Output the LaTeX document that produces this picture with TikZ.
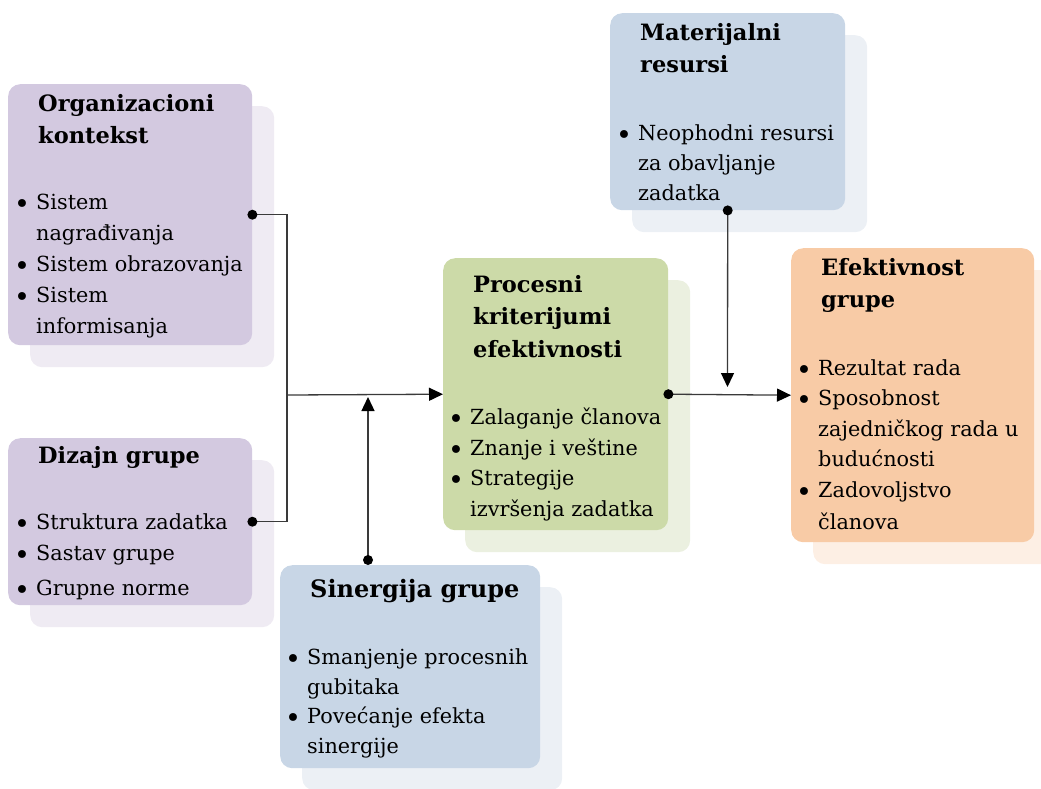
\documentclass[tikz,border=0pt]{standalone}
\usepackage{fontspec}
\setmainfont{DejaVu Serif}
\usetikzlibrary{arrows.meta,calc}
\definecolor{lavM}{HTML}{D3C9E0}
\definecolor{lavS}{HTML}{EFEBF3}
\definecolor{grnM}{HTML}{CCDAA8}
\definecolor{grnS}{HTML}{EBF0E0}
\definecolor{bluM}{HTML}{C8D6E6}
\definecolor{bluS}{HTML}{ECF0F5}
\definecolor{orgM}{HTML}{F8CBA6}
\definecolor{orgS}{HTML}{FDEFE4}
\definecolor{lineC}{HTML}{3A3A3A}
\newcommand\bl{\makebox[21pt][l]{\hspace*{-1pt}\raisebox{-4.2pt}{\fontsize{27}{27}\selectfont•}}}
\newcommand\nb{\hspace*{21pt}}
\begin{document}
\begin{tikzpicture}[x=1pt,y=-1pt,
  panel/.style={rounded corners=12pt, inner sep=0pt, anchor=north west, draw=none},
  head/.style={anchor=base west, inner sep=0pt, align=left, font=\fontsize{22.5}{32}\selectfont\bfseries},
  items/.style={anchor=base west, inner sep=0pt, align=left, font=\fontsize{20.8}{31}\selectfont},
  conn/.style={draw=lineC, line width=1.3pt},
  tipT/.style={-{Triangle[length=14pt,width=13pt,color=black]}},
  dotC/.style={fill=black}
]
\useasboundingbox (0,0) rectangle (1041,788);

% shadows
\node[panel, fill=lavS, minimum width=244pt, minimum height=261pt] (orgSh) at (30,106) {};
\node[panel, fill=lavS, minimum width=244pt, minimum height=167pt] (dizSh) at (30,460) {};
\node[panel, fill=bluS, minimum width=260pt, minimum height=203pt] (sinSh) at (302,587) {};
\node[panel, fill=grnS, minimum width=225pt, minimum height=272pt] (procSh) at (465,280) {};
\node[panel, fill=bluS, minimum width=235pt, minimum height=197pt] (matSh) at (632,35) {};
\node[panel, fill=orgS, minimum width=243pt, minimum height=294pt] (effSh) at (813,270) {};

% main panels
\node[panel, fill=lavM, minimum width=244pt, minimum height=261pt] (org) at (8,84) {};
\node[panel, fill=lavM, minimum width=244pt, minimum height=167pt] (diz) at (8,438) {};
\node[panel, fill=bluM, minimum width=260pt, minimum height=203pt] (sin) at (280,565) {};
\node[panel, fill=grnM, minimum width=225pt, minimum height=272pt] (proc) at (443,258) {};
\node[panel, fill=bluM, minimum width=235pt, minimum height=197pt] (mat) at (610,13) {};
\node[panel, fill=orgM, minimum width=243pt, minimum height=294pt] (eff) at (791,248) {};

% headings (anchor = baseline of last line)
\node[head] (orgH) at (38,143) {Organizacioni\\kontekst};
\node[head] (dizH) at (38,463) {Dizajn grupe};
\node[head, font=\fontsize{24}{32}\selectfont\bfseries] (sinH) at (310,597) {Sinergija grupe};
\node[head, font=\fontsize{22.5}{32.5}\selectfont\bfseries] (procH) at (473,357) {Procesni\\kriterijumi\\efektivnosti};
\node[head] (matH) at (640,72) {Materijalni\\resursi};
\node[head] (effH) at (821,307) {Efektivnost\\grupe};

% lists (anchor = baseline of last line)
\node[items] (orgL) at (15,333) {\bl Sistem\\ \nb nagrađivanja\\ \bl Sistem obrazovanja\\ \bl Sistem\\ \nb informisanja};
\node[items] (dizL) at (15,595) {\bl Struktura zadatka\\ \bl Sastav grupe\\[4pt] \bl Grupne norme};
\node[items, font=\fontsize{20.8}{29.5}\selectfont] (sinL) at (286,753) {\bl Smanjenje procesnih\\ \nb gubitaka\\ \bl Povećanje efekta\\ \nb sinergije};
\node[items, font=\fontsize{20.8}{30.5}\selectfont] (procL) at (449,516) {\bl Zalaganje članova\\ \bl Znanje i veštine\\ \bl Strategije\\ \nb izvršenja zadatka};
\node[items, font=\fontsize{20.8}{30}\selectfont] (matL) at (617,200) {\bl Neophodni resursi\\ \nb za obavljanje\\ \nb zadatka};
\node[items, font=\fontsize{20.8}{30.5}\selectfont] (effL) at (797,529) {\bl Rezultat rada\\ \bl Sposobnost\\ \nb zajedničkog rada u\\ \nb budućnosti\\ \bl Zadovoljstvo\\[1.5pt] \nb članova};

% connectors
\coordinate (jM) at (287,395);
\coordinate (sinDot) at (368,560);
\coordinate (sinTip) at (368,397);
\coordinate (matTip) at (727.5,387);

\draw[conn] (org.east) -| (jM);
\draw[conn] (diz.east) -| (jM);
\draw[conn, tipT] (jM) -- (proc.west);
\draw[conn, tipT] (sinDot) -- (sinTip);
\draw[conn, tipT] (mat.south) -- (matTip);
\draw[conn, tipT] (proc.east) -- (eff.west);

\fill[dotC] (org.east) circle (5pt);
\fill[dotC] (diz.east) circle (5pt);
\fill[dotC] (sinDot) circle (5pt);
\fill[dotC] (mat.south) circle (5pt);
\fill[dotC] (proc.east) circle (5pt);
\end{tikzpicture}
\end{document}
